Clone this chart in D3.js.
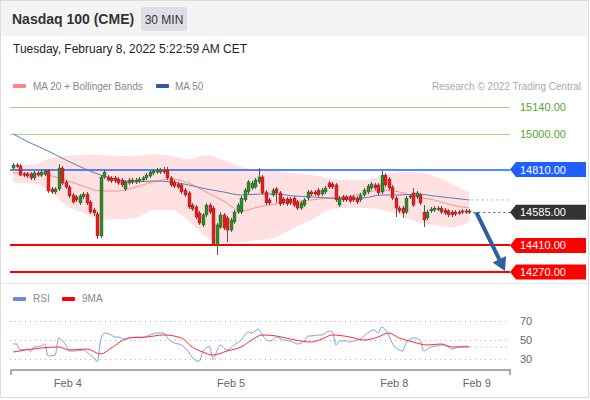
<!DOCTYPE html>
<html><head><meta charset="utf-8">
<script src="https://cdn.jsdelivr.net/npm/d3@7"></script>
<style>
body{margin:0;background:#fff;}
svg text{font-family:"Liberation Sans", Arial, Helvetica, sans-serif;}
</style></head><body>
<svg id="c" width="590" height="400"></svg>
<script>
// ---------- DATA ----------
const title = "Nasdaq 100 (CME)";
const period = "30 MIN";
const stamp = "Tuesday, February 8, 2022 5:22:59 AM CET";

const opens = [14818,14834,14829,14787,14787,14787,14766,14792,14781,14787,14803,14708,14692,14708,14818,14745,14718,14676,14666,14634,
14666,14681,14639,14597,14576,14460,14771,14771,14766,14766,14760,14755,14708,14739,14755,14745,14750,14755,14766,14776,
14792,14797,14797,14808,14808,14766,14745,14734,14729,14702,14687,14623,14613,14581,14518,14571,14623,14607,14412,14507,
14571,14555,14491,14534,14586,14586,14650,14692,14713,14718,14745,14771,14692,14650,14676,14708,14687,14655,14655,14655,
14660,14639,14607,14623,14660,14692,14692,14702,14681,14692,14739,14734,14729,14623,14666,14666,14666,14666,14660,14650,
14676,14692,14713,14729,14729,14692,14781,14760,14718,14660,14607,14607,14586,14666,14687,14666,14676,14586,14555,14592,
14597,14602,14607,14597,14592,14586,14586,14586,14592,14592,14592];
const closes = [14834,14829,14781,14781,14776,14766,14792,14781,14797,14803,14697,14692,14708,14818,14739,14718,14671,14639,14650,14671,
14681,14634,14586,14581,14460,14771,14797,14755,14750,14750,14739,14729,14745,14755,14745,14755,14760,14766,14781,14797,
14803,14808,14808,14797,14766,14729,14723,14718,14692,14676,14613,14602,14560,14528,14571,14623,14586,14412,14518,14571,
14502,14491,14544,14586,14623,14660,14702,14745,14739,14755,14771,14687,14634,14634,14702,14687,14629,14634,14629,14634,
14623,14607,14634,14650,14692,14681,14681,14676,14702,14713,14718,14718,14650,14660,14650,14650,14644,14650,14639,14676,
14702,14723,14734,14713,14687,14781,14729,14713,14660,14607,14592,14581,14660,14671,14623,14687,14634,14544,14586,14602,
14607,14607,14586,14581,14571,14571,14576,14581,14586,14586,14585];
const highs = [14845,14845,14839,14797,14797,14797,14803,14803,14808,14813,14813,14718,14718,14839,14829,14755,14729,14687,14676,14681,
14692,14692,14650,14607,14586,14781,14808,14781,14776,14776,14771,14766,14755,14766,14766,14766,14771,14776,14792,14808,
14813,14818,14818,14824,14824,14776,14755,14745,14739,14713,14697,14634,14623,14592,14581,14634,14634,14618,14528,14586,
14581,14565,14555,14597,14634,14671,14713,14755,14750,14766,14818,14781,14702,14660,14713,14718,14697,14666,14666,14666,
14671,14650,14644,14660,14702,14702,14702,14713,14713,14723,14750,14745,14739,14671,14676,14676,14676,14676,14671,14687,
14713,14734,14745,14739,14739,14803,14792,14771,14729,14671,14618,14618,14671,14681,14713,14697,14687,14623,14597,14613,
14618,14618,14618,14607,14602,14597,14597,14597,14602,14602,14602];
const lows = [14813,14818,14776,14771,14766,14755,14755,14771,14771,14776,14687,14681,14681,14697,14729,14708,14660,14629,14639,14623,
14655,14623,14576,14565,14444,14449,14760,14745,14739,14739,14729,14718,14697,14729,14734,14734,14739,14745,14755,14766,
14781,14787,14787,14787,14755,14718,14713,14708,14681,14666,14602,14592,14549,14518,14507,14560,14576,14407,14360,14497,
14491,14428,14481,14523,14576,14576,14639,14681,14702,14708,14734,14676,14623,14623,14666,14634,14618,14623,14618,14623,
14613,14597,14597,14613,14650,14671,14671,14666,14671,14681,14708,14708,14639,14613,14639,14639,14634,14639,14629,14639,
14666,14681,14702,14702,14676,14681,14718,14702,14650,14560,14581,14555,14576,14655,14613,14655,14623,14507,14544,14581,
14586,14592,14576,14571,14560,14560,14565,14571,14576,14576,14576];

// indicator samples (candle index -> value)
const maIdx   = [0,5,10,15,20,25,30,35,40,45,50,55,60,65,70,75,80,85,90,95,100,105,110,115,120,125,130];
const ma50    = [14998,14950,14908,14861,14818,14781,14755,14745,14750,14745,14729,14708,14692,14676,14681,14681,14671,14666,14660,14655,14660,14676,14676,14681,14671,14660,14650];
const ma20    = [14792,14792,14781,14755,14723,14697,14697,14718,14745,14760,14739,14692,14644,14592,14613,14629,14639,14650,14660,14666,14687,14702,14692,14666,14650,14623,14607];
const bbUpper = [14834,14834,14866,14882,14887,14887,14882,14882,14892,14882,14866,14887,14861,14824,14808,14803,14792,14781,14766,14755,14755,14776,14797,14797,14776,14734,14687];
const bbLower = [14739,14739,14702,14623,14581,14544,14549,14555,14597,14597,14539,14455,14423,14428,14439,14455,14502,14544,14597,14607,14607,14597,14571,14534,14518,14507,14534];

const rsiIdx = [0,1,2,4,5,6,8,9,10,12,13,15,16,18,20,21,22,23,24,25,26,28,29,30,32,33,35,37,39,41,43,44,46,48,50,51,53,54,56,57,58,59,61,63,65,67,68,70,71,73,74,75,77,79,81,83,84,85,87,88,90,91,92,93,95,96,97,99,101,103,104,105,107,108,110,111,112,114,116,117,119,121,122,124,125,127,129,130];
const rsiVal = [45.5,45.5,39.1,40.1,37,42.3,43.3,45.5,32.7,33.7,51.9,44.4,38,38,39.1,37,33.8,30.6,26.9,49.7,57.2,55.1,52.9,52.9,49.7,51.9,52.9,52.4,55.1,57.2,57.2,51.9,46.6,44.4,37,31.6,26.9,36.5,42.8,29,37,44.4,39.1,44.4,49.7,58.3,57.2,61.5,55.1,48.7,49.7,52.9,49.7,48.7,45.5,48.7,54,54,55.1,55.1,59.3,58.3,44.4,48.7,48.7,47.6,48.7,50.8,57.2,60.4,57.2,63.6,55.1,46.6,39.1,38,46.6,51.9,49.7,38,42.3,43.3,44.4,42.3,40.1,42.3,43.3,42.3];
const ma9Idx = [0,8,13,16,21,25,28,33,38,43,48,51,54,57,61,65,68,71,75,79,85,88,91,96,100,104,107,110,114,118,122,125,130];
const ma9Val = [36.9,41.2,42.3,39.1,40.1,34.8,41.2,51.9,52.9,55.1,51.9,42.3,37,33.7,38,42.3,49.7,55.1,54,50.8,47.6,50.8,55.1,52.9,49.7,52.9,57.2,51.9,47.6,44.4,45.5,42.3,42.3];

const levels      = [15140, 15000, 14810, 14585, 14410, 14270];
const levelLabels = ["15140.00","15000.00","14810.00","14585.00","14410.00","14270.00"];
const levelKinds  = ["target","target","pivot","last","support","support"];
const rsiTicks = [70, 50, 30];
const xTickIdx = [15.5, 62, 108.5, 132];
const xTickLabels = ["Feb 4","Feb 5","Feb 8","Feb 9"];

// ---------- DRAW ----------
const svg = d3.select("#c");
const N = closes.length;
const x = d3.scaleLinear().domain([0, N - 1]).range([13, 469.3]);
const y = d3.scaleLinear().domain([14270, 15140]).range([272, 107]);
const yR = d3.scaleLinear().domain([30, 70]).range([358.5, 321]);
const L = 10, R = 510;

// frame & header
svg.append("rect").attr("x",0.5).attr("y",0.5).attr("width",588).attr("height",397).attr("fill","#fff").attr("stroke","#dcdcdc");
svg.append("rect").attr("x",1).attr("y",1).attr("width",587).attr("height",35).attr("fill","#f4f4f4");
svg.append("text").attr("x",12).attr("y",24).attr("font-size",14).attr("font-weight","bold").attr("fill","#333").text(title);
svg.append("rect").attr("x",141).attr("y",7).attr("width",46).attr("height",24).attr("fill","#dcdfe5");
svg.append("text").attr("x",164).attr("y",23.5).attr("text-anchor","middle").attr("font-size",12).attr("fill","#333").text(period);
svg.append("text").attr("x",13).attr("y",53).attr("font-size",12).attr("fill","#222").text(stamp);

// legend
svg.append("rect").attr("x",13).attr("y",84).attr("width",13).attr("height",4).attr("rx",1).attr("fill","#ff8585");
svg.append("text").attr("x",33).attr("y",90).attr("font-size",10).attr("fill","#888").text("MA 20 + Bollinger Bands");
svg.append("rect").attr("x",156).attr("y",84).attr("width",13).attr("height",4).attr("rx",1).attr("fill","#2e5b9a");
svg.append("text").attr("x",175).attr("y",90).attr("font-size",10).attr("fill","#888").text("MA 50");
svg.append("text").attr("x",581).attr("y",90).attr("text-anchor","end").attr("font-size",10).attr("fill","#aaa").text("Research \u00a9 2022 Trading Central");

// panel separator
svg.append("line").attr("x1",1).attr("x2",588).attr("y1",283.5).attr("y2",283.5).attr("stroke","#e6e6e6");

// Bollinger band
const bandData = maIdx.map((d,i)=>({i:d, u:bbUpper[i], l:bbLower[i], m20:ma20[i], m50:ma50[i]}));
svg.append("path").datum(bandData)
  .attr("d", d3.area().x(d=>x(d.i)).y0(d=>y(d.l)).y1(d=>y(d.u)).curve(d3.curveMonotoneX))
  .attr("fill","#ffe1e1");

// level lines
const lvlStyle = {
  target:{stroke:"#9fd68a", w:1, text:"#56a62a"},
  pivot:{stroke:"#1f5fff", w:1.5, box:"#1f5fff"},
  last:{stroke:"#555", w:1, box:"#333"},
  support:{stroke:"#ff0000", w:2, box:"#ff0000"}
};
levels.forEach((v,k)=>{
  const s = lvlStyle[levelKinds[k]];
  const yy = Math.round(y(v)) + (s.w===1?0.5:0);
  const ln = svg.append("line").attr("y1",yy).attr("y2",yy).attr("stroke",s.stroke).attr("stroke-width",s.w);
  if (levelKinds[k]==="last") ln.attr("x1",x(N-1)+4).attr("x2",R).attr("stroke-dasharray","2,3");
  else ln.attr("x1",L).attr("x2",R);
});

// MA lines
svg.append("path").datum(bandData)
  .attr("d", d3.line().x(d=>x(d.i)).y(d=>y(d.m20)).curve(d3.curveMonotoneX))
  .attr("fill","none").attr("stroke","#ff8c8c").attr("stroke-width",1);
svg.append("path").datum(bandData)
  .attr("d", d3.line().x(d=>x(d.i)).y(d=>y(d.m50)).curve(d3.curveMonotoneX))
  .attr("fill","none").attr("stroke","#5a7cb5").attr("stroke-width",1);
svg.append("line").attr("x1",x(N-1)+2).attr("x2",R).attr("y1",y(ma50[ma50.length-1])).attr("y2",y(ma50[ma50.length-1]))
  .attr("stroke","#9fb2d8").attr("stroke-width",1).attr("stroke-dasharray","2,3");

// candles
const cd = d3.range(N).map(i=>({i, o:opens[i], c:closes[i], h:highs[i], l:lows[i]}));
const g = svg.append("g");
g.selectAll("line.w").data(cd).join("line")
  .attr("x1",d=>Math.round(x(d.i))+0.5).attr("x2",d=>Math.round(x(d.i))+0.5)
  .attr("y1",d=>y(d.h)).attr("y2",d=>y(d.l)).attr("stroke","#555").attr("stroke-width",1);
g.selectAll("rect.b").data(cd).join("rect")
  .attr("x",d=>Math.round(x(d.i))-1).attr("width",3)
  .attr("y",d=>y(Math.max(d.o,d.c)))
  .attr("height",d=>Math.max(1.2, Math.abs(y(d.o)-y(d.c))))
  .attr("fill",d=>d.c>=d.o?"#2f8a2f":"#e3201f")
  .attr("stroke",d=>d.c>=d.o?"#1e5e1e":"#a51515").attr("stroke-width",0.4);

// level labels
levels.forEach((v,k)=>{
  const s = lvlStyle[levelKinds[k]];
  const yy = y(v);
  if (s.box) {
    const h = 15;
    svg.append("path")
      .attr("d",`M${R},${yy} L${R+6},${yy-h/2} L586,${yy-h/2} L586,${yy+h/2} L${R+6},${yy+h/2} Z`)
      .attr("fill",s.box);
    svg.append("text").attr("x",520).attr("y",yy+4).attr("font-size",11).attr("fill","#fff").text(levelLabels[k]);
  } else {
    svg.append("text").attr("x",520).attr("y",yy+4).attr("font-size",11).attr("fill",s.text).text(levelLabels[k]);
  }
});

// arrow
{
  const x0 = x(N-1)+7, y0 = y(closes[N-1]);
  const x1 = 505, y1 = y(14270) - 1;
  const ang = Math.atan2(y1-y0, x1-x0);
  const hl = 13, hw = 7.5;
  const bx = x1 - hl*Math.cos(ang), by = y1 - hl*Math.sin(ang);
  svg.append("line").attr("x1",x0).attr("y1",y0).attr("x2",bx).attr("y2",by)
    .attr("stroke","#2e5f9e").attr("stroke-width",4);
  const px = -Math.sin(ang), py = Math.cos(ang);
  svg.append("path").attr("d",`M${x1},${y1} L${bx+px*hw},${by+py*hw} L${bx-px*hw},${by-py*hw} Z`).attr("fill","#2e5f9e");
}

// RSI panel legend
svg.append("rect").attr("x",13).attr("y",297).attr("width",13).attr("height",4).attr("rx",1).attr("fill","#6a8ce0");
svg.append("text").attr("x",33).attr("y",302).attr("font-size",10).attr("fill","#888").text("RSI");
svg.append("rect").attr("x",62).attr("y",297).attr("width",13).attr("height",4).attr("rx",1).attr("fill","#ff0000");
svg.append("text").attr("x",82).attr("y",302).attr("font-size",10).attr("fill","#888").text("9MA");

rsiTicks.forEach(t=>{
  svg.append("line").attr("x1",L).attr("x2",508).attr("y1",Math.round(yR(t))+0.5).attr("y2",Math.round(yR(t))+0.5)
    .attr("stroke","#b5b5b5").attr("stroke-dasharray","1,4");
  svg.append("text").attr("x",520).attr("y",yR(t)+4).attr("font-size",11).attr("fill","#666").text(t);
});
const rsiData = rsiIdx.map((d,i)=>({i:d, v:rsiVal[i]}));
const ma9Data = ma9Idx.map((d,i)=>({i:d, v:ma9Val[i]}));
svg.append("path").datum(rsiData).attr("d", d3.line().x(d=>x(d.i)).y(d=>yR(d.v)).curve(d3.curveMonotoneX))
  .attr("fill","none").attr("stroke","#7f9ded").attr("stroke-width",1);
svg.append("path").datum(ma9Data).attr("d", d3.line().x(d=>x(d.i)).y(d=>yR(d.v)).curve(d3.curveMonotoneX))
  .attr("fill","none").attr("stroke","#ff2a2a").attr("stroke-width",1);
svg.append("line").attr("x1",x(N-1)+1).attr("x2",R).attr("y1",yR(rsiVal[rsiVal.length-1])).attr("y2",yR(rsiVal[rsiVal.length-1]))
  .attr("stroke","#b8c8f0").attr("stroke-dasharray","2,3");

// x axis
svg.append("path").attr("d",`M${L+1},375 V370 H${R} V375`).attr("fill","none").attr("stroke","#aaa").attr("stroke-width",2);
const ax = svg.append("g").attr("transform","translate(0,372)")
  .call(d3.axisBottom(x).tickValues(xTickIdx).tickFormat((d,i)=>xTickLabels[i]).tickSize(0).tickPadding(7));
ax.select(".domain").remove();
ax.selectAll("text").attr("font-size",11).attr("fill","#666").attr("font-family","Liberation Sans, Arial, sans-serif");
</script>
</body></html>
